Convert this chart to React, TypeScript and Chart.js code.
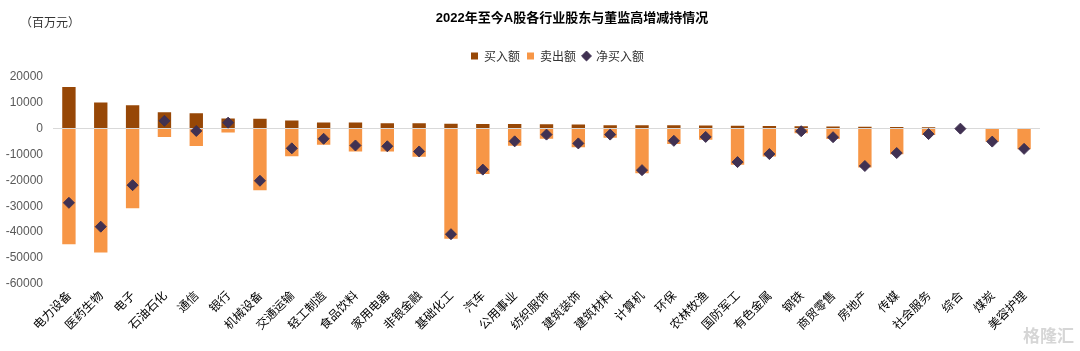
import React, { useEffect, useRef } from 'react';
import { Chart, registerables } from 'chart.js';

Chart.register(...registerables);

const categories = ['电力设备', '医药生物', '电子', '石油石化', '通信', '银行', '机械设备', '交通运输', '轻工制造', '食品饮料', '家用电器', '非银金融', '基础化工', '汽车', '公用事业', '纺织服饰', '建筑装饰', '建筑材料', '计算机', '环保', '农林牧渔', '国防军工', '有色金属', '钢铁', '商贸零售', '房地产', '传媒', '社会服务', '综合', '煤炭', '美容护理'];

const buyValues = [16000, 10000, 8900, 6200, 5800, 3800, 3700, 3000, 2300, 2300, 2000, 2000, 1800, 1700, 1700, 1600, 1500, 1200, 1200, 1200, 1100, 1000, 900, 800, 700, 600, 500, 400, 100, 100, 100];

const sellValues = [-44700, -47900, -30800, -3300, -6800, -1600, -23900, -10700, -6300, -8900, -8900, -10900, -42600, -17600, -6700, -4000, -7300, -3600, -17300, -6000, -4400, -14000, -10800, -1900, -4100, -15100, -10000, -2600, -200, -5200, -8000];

const netValues = [-28700, -37900, -21900, 2900, -1000, 2200, -20200, -7700, -4000, -6600, -6900, -8900, -40800, -15900, -5000, -2400, -5800, -2400, -16100, -4800, -3300, -13000, -9900, -1100, -3400, -14500, -9500, -2200, -100, -5100, -7900];

const seriesNames = ['买入额', '卖出额', '净买入额'];
const titleText = '2022年至今A股各行业股东与董监高增减持情况';
const unitText = '（百万元）';
const watermarkText = '格隆汇';

const FONT = '"Liberation Sans", Arial, "Noto Sans CJK SC", sans-serif';
const CJK = '"Noto Sans CJK SC", "Liberation Sans", sans-serif';

const textPlugin = {
  id: 'extraText',
  afterLayout(chart: any) {
    const lg = chart.legend;
    if (lg) {
      lg.left += 11;
      lg.right += 11;
    }
  },
  afterDraw(chart: any) {
    const ctx = chart.ctx;
    ctx.save();
    ctx.fillStyle = '#000';
    ctx.font = `bold 13px ${FONT}`;
    ctx.textAlign = 'center';
    ctx.textBaseline = 'middle';
    ctx.fillText(titleText, 572, 18);
    ctx.fillStyle = '#333';
    ctx.font = `12px ${CJK}`;
    ctx.textAlign = 'left';
    ctx.fillText(unitText, 20, 22);
    ctx.fillStyle = '#d6d6d6';
    ctx.font = `bold 17px ${CJK}`;
    ctx.textAlign = 'right';
    ctx.fillText(watermarkText, 1074, 336);
    ctx.restore();
  },
};

export default function App() {
  const ref = useRef<HTMLCanvasElement>(null);
  useEffect(() => {
    document.body.style.margin = '0';
    Chart.defaults.font.family = FONT;
    const chart = new Chart(ref.current as HTMLCanvasElement, {
      type: 'bar',
      data: {
        labels: categories,
        datasets: [
          {
            type: 'bar',
            label: seriesNames[0],
            data: buyValues,
            backgroundColor: '#974706',
            borderWidth: 0,
            pointStyle: 'rect',
            order: 1,
            barPercentage: 0.42,
            categoryPercentage: 1,
          } as any,
          {
            type: 'bar',
            label: seriesNames[1],
            data: sellValues,
            backgroundColor: '#F79646',
            borderWidth: 0,
            pointStyle: 'rect',
            order: 1,
            barPercentage: 0.42,
            categoryPercentage: 1,
          } as any,
          {
            type: 'line',
            label: seriesNames[2],
            data: netValues,
            showLine: false,
            pointStyle: 'rectRot',
            pointRadius: 5.5,
            backgroundColor: '#403152',
            borderColor: '#403152',
            borderWidth: 1,
            order: 0,
          } as any,
        ],
      },
      options: {
        responsive: false,
        animation: false,
        devicePixelRatio: 1,
        layout: { padding: { top: 43, right: 40, left: 0, bottom: 0 } },
        plugins: {
          title: {
            display: true,
            text: '',
            weight: 0,
            fullSize: false,
            position: 'top',
            padding: { top: 0, bottom: 0 },
            font: { size: 3.75, lineHeight: 1.2 },
          } as any,
          tooltip: { enabled: false },
          legend: {
            display: true,
            position: 'top',
            fullSize: false,
            labels: {
              usePointStyle: true,
              boxWidth: 7,
              boxHeight: 7,
              padding: 7,
              color: '#333',
              font: { size: 12, family: CJK },
              sort: (a: any, b: any) => a.datasetIndex - b.datasetIndex,
            },
          },
        },
        scales: {
          x: {
            stacked: true,
            offset: true,
            grid: { display: false, drawTicks: false },
            border: { display: false },
            ticks: {
              autoSkip: false,
              maxRotation: 45,
              minRotation: 45,
              padding: 4,
              color: '#000',
              font: { size: 12, family: CJK },
            },
            afterFit: (s: any) => {
              s.height = 67;
            },
          },
          y: {
            stacked: true,
            min: -60000,
            max: 20000,
            grid: {
              drawTicks: false,
              color: (c: any) => (c.tick && c.tick.value === 0 ? '#d9d9d9' : 'rgba(0,0,0,0)'),
              lineWidth: 1,
            },
            border: { display: false },
            ticks: {
              stepSize: 10000,
              padding: 10,
              color: '#595959',
              font: { size: 12, family: FONT },
              callback: (v: any) => String(v),
            },
            afterFit: (s: any) => {
              s.width = 53;
            },
          },
        },
      },
      plugins: [textPlugin],
    });
    return () => chart.destroy();
  }, []);
  return (
    <div style={{ width: 1080, height: 351, background: '#fff' }}>
      <canvas ref={ref} width={1080} height={351} style={{ display: 'block' }} />
    </div>
  );
}
